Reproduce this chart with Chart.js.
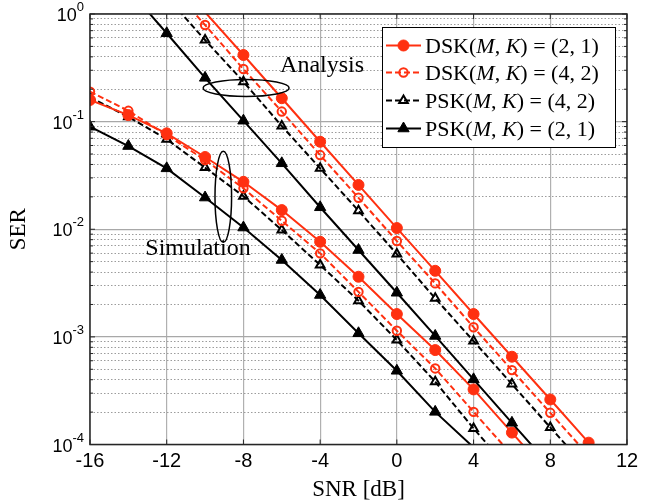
<!DOCTYPE html>
<html>
<head>
<meta charset="utf-8">
<script src="https://cdn.jsdelivr.net/npm/chart.js@4.4.1/dist/chart.umd.min.js"></script>
<style>
html,body{margin:0;padding:0;background:#fff;}
#wrap{width:656px;height:502px;}
</style>
</head>
<body>
<div id="wrap"><canvas id="ser" width="656" height="502"></canvas></div>
<script>
// SNR points in dB
var snrDb = [-16,-14,-12,-10,-8,-6,-4,-2,0,2,4,6,8,10];

// analysis (values past 1 or under 1e-4 only carry the line to the frame)
var anaDsk21 = [null,null,null,1.04,0.416,0.165,0.0650,0.0258,0.01026,0.00411,0.00163,0.000654,0.000262,0.000104];
var anaDsk42 = [null,null,1.98,0.79,0.308,0.124,0.0489,0.0196,0.00777,0.00314,0.00123,0.000491,0.000197,0.000079];
var anaPsk42 = [null,null,1.44,0.573,0.235,0.091,0.0368,0.01486,0.00588,0.00228,0.000914,0.000364,0.000144,0.000058];
var anaPsk21 = [null,1.70,0.662,0.255,0.102,0.0410,0.0160,0.00641,0.00257,0.00102,0.000403,0.000159,0.000063,null];

// simulation
var simDsk21 = [0.159,0.115,0.0778,0.0469,0.0276,0.01507,0.00765,0.00362,0.00163,0.000754,0.000325,0.000129,0.000051,null];
var simDsk42 = [0.190,0.126,0.075,0.044,0.024,0.0120,0.00597,0.00262,0.00114,0.000509,0.000201,0.00008,null,null];
var simPsk42 = [0.168,0.111,0.0685,0.0374,0.0203,0.00984,0.00465,0.00217,0.000934,0.000383,0.000141,0.000055,null,null];
var simPsk21 = [0.0897,0.0593,0.0368,0.0197,0.01037,0.00518,0.00245,0.00108,0.000484,0.000201,0.000094,null,null,null];

var xTicks = [-16,-12,-8,-4,0,4,8,12];
var yDecades = [-4,-3,-2,-1,0];
var legendNames = ['DSK','DSK','PSK','PSK'];
var legendMK = ['(2, 1)','(4, 2)','(4, 2)','(2, 1)'];

// annotation anchors [snr, ser]
var anaEllipse = [-7.86, 0.205];
var anaLabel = [-6.09, 0.289];
var simEllipse = [-9.05, 0.0200];
var simLabel = [-10.37, 0.00575];

var RED = 'rgb(255,48,16)';
var serif = "'Liberation Serif', serif";
var sans = "'Liberation Sans', Arial, sans-serif";

function pts(arr){
	return snrDb.map(function(x,i){ return {x:x, y:arr[i]}; }).filter(function(p){ return p.y !== null; });
}

var styles = [
	{color:RED, dash:[], pt:'circle', filled:true, r:5.5},
	{color:RED, dash:[6,3], pt:'circle', filled:false, r:4.2},
	{color:'#000', dash:[6,3], pt:'triangle', filled:false, r:5},
	{color:'#000', dash:[], pt:'triangle', filled:true, r:6.5}
];

function series(arr, s){
	return {
		data: pts(arr),
		borderColor: s.color,
		borderWidth: 2,
		borderDash: s.dash,
		pointStyle: s.pt,
		pointBorderColor: s.color,
		pointBackgroundColor: s.filled ? s.color : 'rgba(0,0,0,0)',
		pointBorderWidth: s.filled ? 1 : 2,
		pointRadius: function(c){
			var v = c.raw ? c.raw.y : 1;
			return (v < 0.99e-4 || v > 1.001) ? 0 : s.r;
		},
		pointHoverRadius: 0,
		tension: 0,
		fill: false
	};
}

var datasets = [
	series(anaDsk21, styles[0]), series(anaDsk42, styles[1]), series(anaPsk42, styles[2]), series(anaPsk21, styles[3]),
	series(simDsk21, styles[0]), series(simDsk42, styles[1]), series(simPsk42, styles[2]), series(simPsk21, styles[3])
];

function isMajor(v){
	var e = Math.log10(v);
	return Math.abs(e - Math.round(e)) < 1e-6;
}

var decor = {
	id: 'decor',
	afterDatasetsDraw: function(chart){
		var ctx = chart.ctx, a = chart.chartArea;
		var xs = chart.scales.x, ys = chart.scales.y;
		ctx.save();

		// frame + inward ticks
		ctx.strokeStyle = '#262626';
		ctx.lineWidth = 1.5;
		ctx.setLineDash([]);
		ctx.strokeRect(a.left, a.top, a.right - a.left, a.bottom - a.top);
		ctx.lineWidth = 1;
		ctx.beginPath();
		xTicks.forEach(function(t){
			var px = xs.getPixelForValue(t);
			ctx.moveTo(px, a.bottom); ctx.lineTo(px, a.bottom - 5);
			ctx.moveTo(px, a.top); ctx.lineTo(px, a.top + 5);
		});
		ys.ticks.forEach(function(t){
			var py = ys.getPixelForValue(t.value);
			var len = isMajor(t.value) ? 5 : 3;
			ctx.moveTo(a.left, py); ctx.lineTo(a.left + len, py);
			ctx.moveTo(a.right, py); ctx.lineTo(a.right - len, py);
		});
		ctx.stroke();

		// y tick labels 10^e
		ctx.fillStyle = '#000';
		ctx.textBaseline = 'alphabetic';
		yDecades.forEach(function(e){
			var py = ys.getPixelForValue(Math.pow(10, e));
			var ex = String(e);
			ctx.font = '13px ' + sans;
			var ew = ctx.measureText(ex).width;
			ctx.textAlign = 'right';
			ctx.fillText(ex, 84, py - 3);
			ctx.font = '18px ' + sans;
			ctx.fillText('10', 84 - ew, py + 7);
		});

		// axis titles
		ctx.font = '23px ' + serif;
		ctx.textAlign = 'center';
		ctx.fillText('SNR [dB]', (a.left + a.right) / 2, 496);
		ctx.save();
		ctx.translate(19, (a.top + a.bottom) / 2);
		ctx.rotate(-Math.PI / 2);
		ctx.textBaseline = 'middle';
		ctx.fillText('SER', 0, 0);
		ctx.restore();

		// annotations
		ctx.strokeStyle = '#000';
		ctx.lineWidth = 1.5;
		ctx.beginPath();
		ctx.ellipse(xs.getPixelForValue(anaEllipse[0]), ys.getPixelForValue(anaEllipse[1]), 43, 8.5, 0, 0, 2 * Math.PI);
		ctx.stroke();
		ctx.beginPath();
		ctx.ellipse(xs.getPixelForValue(simEllipse[0]), ys.getPixelForValue(simEllipse[1]), 8.3, 45.5, 0, 0, 2 * Math.PI);
		ctx.stroke();
		ctx.font = '24px ' + serif;
		ctx.textAlign = 'left';
		ctx.textBaseline = 'alphabetic';
		ctx.fillText('Analysis', xs.getPixelForValue(anaLabel[0]), ys.getPixelForValue(anaLabel[1]));
		ctx.textAlign = 'center';
		ctx.fillText('Simulation', xs.getPixelForValue(simLabel[0]), ys.getPixelForValue(simLabel[1]));

		// legend
		var bx = 382, by = 27, bw = 233, bh = 120;
		ctx.fillStyle = '#fff';
		ctx.fillRect(bx, by, bw, bh);
		ctx.strokeStyle = '#000';
		ctx.lineWidth = 1;
		ctx.strokeRect(bx + 0.5, by + 0.5, bw, bh);
		var rows = [45.5, 72.5, 100.5, 128.5];
		styles.forEach(function(s, i){
			var y = rows[i];
			ctx.strokeStyle = s.color;
			ctx.lineWidth = 2;
			ctx.setLineDash(s.dash);
			ctx.beginPath();
			ctx.moveTo(386, y); ctx.lineTo(421, y);
			ctx.stroke();
			ctx.setLineDash([]);
			ctx.fillStyle = s.filled ? s.color : 'rgba(0,0,0,0)';
			ctx.lineWidth = s.filled ? 1 : 2;
			Chart.helpers.drawPoint(ctx, {pointStyle: s.pt, radius: s.r, rotation: 0, borderWidth: s.filled ? 1 : 2}, 403.5, y);

			ctx.fillStyle = '#000';
			ctx.textAlign = 'left';
			ctx.textBaseline = 'alphabetic';
			var x = 425, base = y + 7.5;
			var parts = [[legendNames[i] + '(', false], ['M', true], [', ', false], ['K', true], [') = ' + legendMK[i], false]];
			parts.forEach(function(p){
				ctx.font = (p[1] ? 'italic ' : '') + '22px ' + serif;
				ctx.fillText(p[0], x, base);
				x += ctx.measureText(p[0]).width;
			});
		});
		ctx.restore();
	}
};

new Chart(document.getElementById('ser'), {
	type: 'line',
	data: {datasets: datasets},
	options: {
		responsive: false,
		animation: false,
		devicePixelRatio: 1,
		layout: {padding: {top: 14, right: 29, left: 0, bottom: 0}},
		plugins: {legend: {display: false}, tooltip: {enabled: false}},
		scales: {
			x: {
				type: 'linear', min: -16, max: 12,
				afterBuildTicks: function(sc){ sc.ticks = xTicks.map(function(v){ return {value: v}; }); },
				afterFit: function(sc){ sc.height = 57.5; },
				ticks: {
					color: '#000', padding: 5,
					font: {family: "'Liberation Sans', Arial, sans-serif", size: 20},
					callback: function(v){ return String(v); }
				},
				grid: {color: '#b0b0b0', lineWidth: 1.2, drawTicks: false},
				border: {display: false}
			},
			y: {
				type: 'logarithmic', min: 1e-4, max: 1,
				afterBuildTicks: function(sc){
					var t = [];
					for (var e = -4; e < 0; e++) {
						for (var m = 1; m < 10; m++) t.push({value: m * Math.pow(10, e)});
					}
					t.push({value: 1});
					sc.ticks = t;
				},
				afterFit: function(sc){ sc.width = 90; },
				ticks: {display: false},
				grid: {
					drawTicks: false,
					color: function(c){ return c.tick && isMajor(c.tick.value) ? '#a8a8a8' : '#9c9c9c'; },
					lineWidth: function(c){ return c.tick && isMajor(c.tick.value) ? 1.2 : 1; }
				},
				border: {
					display: false,
					dash: function(c){ return c.tick && isMajor(c.tick.value) ? [] : [1.5, 2]; }
				}
			}
		}
	},
	plugins: [decor]
});
</script>
</body>
</html>
